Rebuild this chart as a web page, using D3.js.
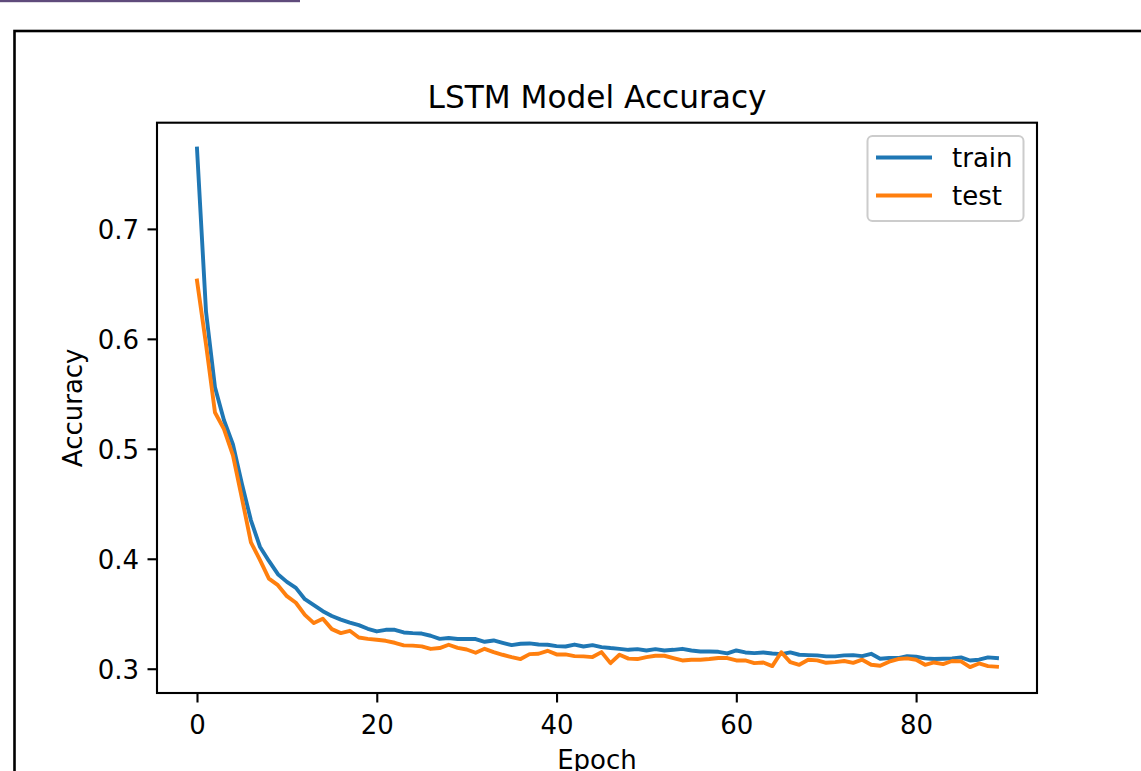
<!DOCTYPE html>
<html>
<head>
<meta charset="utf-8">
<script src="https://cdn.jsdelivr.net/npm/d3@7"></script>
<style>
  html, body { margin: 0; padding: 0; background: #ffffff; overflow: hidden; }
  svg { display: block; }
  text { font-family: "DejaVu Sans", sans-serif; fill: #000; }
</style>
</head>
<body>
<svg id="chart" width="1141" height="771"></svg>
<script>
const epochs = d3.range(90);
const trainAcc = [
  0.773, 0.625, 0.556, 0.526, 0.504, 0.468, 0.435, 0.411, 0.398, 0.386,
  0.379, 0.3735, 0.3632, 0.3578, 0.3523, 0.348, 0.3447, 0.342, 0.3396, 0.3363,
  0.3339, 0.3354, 0.3354, 0.333, 0.3324, 0.332, 0.330, 0.3272, 0.3279, 0.327,
  0.327, 0.327, 0.3245, 0.3257, 0.3236, 0.3215, 0.3227, 0.323, 0.322, 0.3218,
  0.3206, 0.3202, 0.322, 0.3202, 0.3215, 0.3197, 0.3188, 0.3181, 0.3172, 0.3178,
  0.3166, 0.3178, 0.3166, 0.3172, 0.3181, 0.3166, 0.3157, 0.3157, 0.3154, 0.3139,
  0.3166, 0.3148, 0.3142, 0.3148, 0.3139, 0.3133, 0.3148, 0.3127, 0.3124, 0.3121,
  0.3112, 0.3112, 0.3121, 0.3124, 0.3115, 0.3136, 0.3091, 0.3097, 0.3097, 0.3115,
  0.3109, 0.3094, 0.3088, 0.3091, 0.3094, 0.3103, 0.3075, 0.3082, 0.3103, 0.3097
];
const testAcc = [
  0.653, 0.595, 0.533, 0.518, 0.494, 0.455, 0.415, 0.399, 0.382, 0.376,
  0.366, 0.360, 0.349, 0.3415, 0.3454, 0.336, 0.3324, 0.3345, 0.3284, 0.3272,
  0.3263, 0.3254, 0.3236, 0.3212, 0.321, 0.3203, 0.318, 0.3188, 0.3218, 0.319,
  0.3175, 0.3145, 0.3181, 0.3151, 0.3127, 0.3106, 0.3088, 0.3133, 0.3136, 0.3163,
  0.313, 0.313, 0.3115, 0.3112, 0.3106, 0.3151, 0.3051, 0.3127, 0.3092, 0.3088,
  0.3106, 0.3118, 0.3118, 0.3097, 0.3075, 0.3082, 0.3082, 0.3088, 0.3097, 0.3097,
  0.3075, 0.3075, 0.3051, 0.3057, 0.3024, 0.315, 0.306, 0.3036, 0.3082, 0.3076,
  0.3054, 0.306, 0.307, 0.3054, 0.3082, 0.3036, 0.3027, 0.3064, 0.3088, 0.3094,
  0.3082, 0.3036, 0.3057, 0.3042, 0.307, 0.3067, 0.3015, 0.3048, 0.3024, 0.3018
];
const seriesNames = ["train", "test"];
const seriesColors = ["#1f77b4", "#ff7f0e"];
const xTicks = [0, 20, 40, 60, 80];
const yTicks = [0.3, 0.4, 0.5, 0.6, 0.7];
const titleText = "LSTM Model Accuracy";
const xLabel = "Epoch";
const yLabel = "Accuracy";

const svg = d3.select("#chart");

// decorative elements of the screenshot
svg.append("rect").attr("x", 0).attr("y", 0).attr("width", 300).attr("height", 2.2)
  .attr("fill", "#5f4b7b");
svg.append("rect").attr("x", 14.5).attr("y", 31).attr("width", 1200).attr("height", 800)
  .attr("fill", "none").attr("stroke", "#000").attr("stroke-width", 2.6);

const plot = { left: 157, right: 1037, top: 122.7, bottom: 693 };

// matplotlib-like 5% margins
const xMin = d3.min(epochs), xMax = d3.max(epochs);
const xPad = (xMax - xMin) * 0.05;
const allVals = trainAcc.concat(testAcc);
const yMin = d3.min(allVals), yMax = d3.max(allVals);
const yPad = (yMax - yMin) * 0.05;

const x = d3.scaleLinear().domain([xMin - xPad, xMax + xPad]).range([plot.left, plot.right]);
const y = d3.scaleLinear().domain([yMin - yPad, yMax + yPad]).range([plot.bottom, plot.top]);

// lines
const series = [trainAcc, testAcc];
const line = d3.line().x((d, i) => x(epochs[i])).y(d => y(d));
series.forEach((vals, k) => {
  svg.append("path").datum(vals)
    .attr("fill", "none")
    .attr("stroke", seriesColors[k])
    .attr("stroke-width", 3.9)
    .attr("stroke-linejoin", "round")
    .attr("stroke-linecap", "square")
    .attr("d", line);
});

// axes
const xAxis = svg.append("g").attr("transform", `translate(0,${plot.bottom})`)
  .call(d3.axisBottom(x).tickValues(xTicks).tickFormat(d3.format("d")).tickSize(9.5).tickPadding(8).tickSizeOuter(0));
const yAxis = svg.append("g").attr("transform", `translate(${plot.left},0)`)
  .call(d3.axisLeft(y).tickValues(yTicks).tickFormat(d3.format(".1f")).tickSize(9.5).tickPadding(8).tickSizeOuter(0));
[xAxis, yAxis].forEach(g => {
  g.select(".domain").remove();
  g.selectAll(".tick line").attr("stroke", "#000").attr("stroke-width", 2.1);
  g.selectAll(".tick text").attr("font-size", 26).attr("font-family", "DejaVu Sans").attr("fill", "#000");
});
xAxis.selectAll(".tick text").attr("dy", null).attr("y", 41);
yAxis.selectAll(".tick text").attr("dy", "0.36em").attr("x", -18);

// spines
svg.append("rect").attr("x", plot.left).attr("y", plot.top)
  .attr("width", plot.right - plot.left).attr("height", plot.bottom - plot.top)
  .attr("fill", "none").attr("stroke", "#000").attr("stroke-width", 2.1);

// title & labels
svg.append("text").attr("x", (plot.left + plot.right) / 2).attr("y", 108)
  .attr("text-anchor", "middle").attr("font-size", 31.2).text(titleText);
svg.append("text").attr("x", (plot.left + plot.right) / 2).attr("y", 769)
  .attr("text-anchor", "middle").attr("font-size", 26).text(xLabel);
svg.append("text")
  .attr("transform", `translate(82,${(plot.top + plot.bottom) / 2}) rotate(-90)`)
  .attr("text-anchor", "middle").attr("font-size", 26).text(yLabel);

// legend
const lg = svg.append("g");
lg.append("rect").attr("x", 867.5).attr("y", 136).attr("width", 156).attr("height", 85)
  .attr("rx", 5).attr("fill", "#fff").attr("fill-opacity", 0.8)
  .attr("stroke", "#cccccc").attr("stroke-width", 2);
const legendY = [157.5, 195.5];
seriesNames.forEach((name, k) => {
  lg.append("line").attr("x1", 876).attr("x2", 932).attr("y1", legendY[k]).attr("y2", legendY[k])
    .attr("stroke", seriesColors[k]).attr("stroke-width", 3.9);
  lg.append("text").attr("x", 952).attr("y", legendY[k]).attr("dy", "0.36em")
    .attr("font-size", 26).text(name);
});
</script>
</body>
</html>
